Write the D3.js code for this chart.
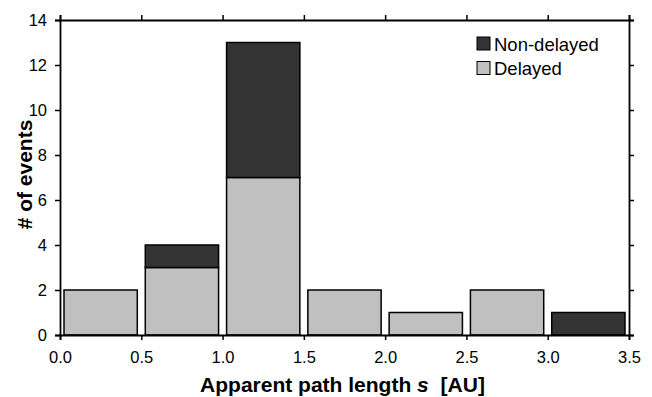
<!DOCTYPE html>
<html>
<head>
<meta charset="utf-8">
<script src="https://cdn.jsdelivr.net/npm/d3@7"></script>
<style>
  html, body { margin: 0; padding: 0; background: #fff; }
  svg { display: block; font-family: "Liberation Sans", Arial, sans-serif; }
</style>
</head>
<body>
<svg id="chart" width="652" height="397"></svg>
<script>
// Histogram bins of apparent path length s [AU]
const binStarts = [0.0, 0.5, 1.0, 1.5, 2.0, 2.5, 3.0];
const binWidth = 0.5;
const delayed = [2, 3, 7, 2, 1, 2, 0];
const nonDelayed = [0, 1, 6, 0, 0, 0, 1];
const seriesNames = ["Non-delayed", "Delayed"];
const xTicks = [0.0, 0.5, 1.0, 1.5, 2.0, 2.5, 3.0, 3.5];
const yTicks = [0, 2, 4, 6, 8, 10, 12, 14];

const colors = { "Delayed": "#c0c0c0", "Non-delayed": "#333333" };

const margin = { left: 60, right: 23, top: 20, bottom: 62 };
const W = 652, H = 397;
const svg = d3.select("#chart");

const x = d3.scaleLinear().domain([0, 3.5]).range([margin.left, W - margin.right]);
const y = d3.scaleLinear().domain([0, 14]).range([H - margin.bottom, margin.top]);

const rows = binStarts.map((s, i) => ({ s, "Delayed": delayed[i], "Non-delayed": nonDelayed[i] }));
const stack = d3.stack().keys(["Delayed", "Non-delayed"]);
const layers = stack(rows);

const inset = 4;
const bars = svg.append("g");
layers.forEach(layer => {
  bars.selectAll(null)
    .data(layer.filter(d => d[1] > d[0]))
    .join("rect")
    .attr("x", d => x(d.data.s) + inset)
    .attr("width", d => x(d.data.s + binWidth) - x(d.data.s) - 2 * inset)
    .attr("y", d => y(d[1]))
    .attr("height", d => y(d[0]) - y(d[1]))
    .attr("fill", colors[layer.key])
    .attr("stroke", "#000")
    .attr("stroke-width", 1.5);
});

// Frame axes: ticks outward on all four sides
const fmtX = d3.format(".1f");
const axisStyle = g => {
  g.selectAll(".domain").attr("stroke", "#000").attr("stroke-width", 1.8);
  g.selectAll(".tick line").attr("stroke", "#000").attr("stroke-width", 1.5);
  g.selectAll(".tick text").attr("fill", "#000").style("font-size", "16.5px");
};

svg.append("g")
  .attr("transform", `translate(0,${y(0)})`)
  .call(d3.axisBottom(x).tickValues(xTicks).tickFormat(fmtX).tickSizeOuter(0).tickSize(5).tickPadding(11))
  .call(axisStyle);

svg.append("g")
  .attr("transform", `translate(0,${y(14)})`)
  .call(d3.axisTop(x).tickValues(xTicks).tickFormat("").tickSizeOuter(0).tickSize(5))
  .call(axisStyle);

svg.append("g")
  .attr("transform", `translate(${x(0)},0)`)
  .call(d3.axisLeft(y).tickValues(yTicks).tickFormat(d3.format("d")).tickSizeOuter(0).tickSize(5).tickPadding(8))
  .call(axisStyle);

svg.append("g")
  .attr("transform", `translate(${x(3.5)},0)`)
  .call(d3.axisRight(y).tickValues(yTicks).tickFormat("").tickSizeOuter(0).tickSize(5))
  .call(axisStyle);

// Axis titles
const xTitle = svg.append("text")
  .attr("x", (x(0) + x(3.5)) / 2 - 2)
  .attr("y", 392)
  .attr("text-anchor", "middle")
  .style("font-size", "21px")
  .style("font-weight", "bold");
xTitle.append("tspan").text("Apparent path length ");
xTitle.append("tspan").style("font-style", "italic").text("s");
xTitle.append("tspan").attr("dx", 6).text(" [AU]");

svg.append("text")
  .attr("transform", `translate(32,${(y(0) + y(14)) / 2 - 3}) rotate(-90)`)
  .attr("text-anchor", "middle")
  .style("font-size", "21px")
  .style("font-weight", "bold")
  .text("# of events");

// Legend
const legend = svg.append("g").attr("transform", "translate(477,37)");
seriesNames.forEach((name, i) => {
  const g = legend.append("g").attr("transform", `translate(0,${i * 24.5})`);
  g.append("rect")
    .attr("width", 13).attr("height", 13)
    .attr("fill", colors[name])
    .attr("stroke", "#000").attr("stroke-width", 1);
  g.append("text")
    .attr("x", 17).attr("y", 13.5)
    .style("font-size", "18.5px")
    .text(name);
});
</script>
</body>
</html>
